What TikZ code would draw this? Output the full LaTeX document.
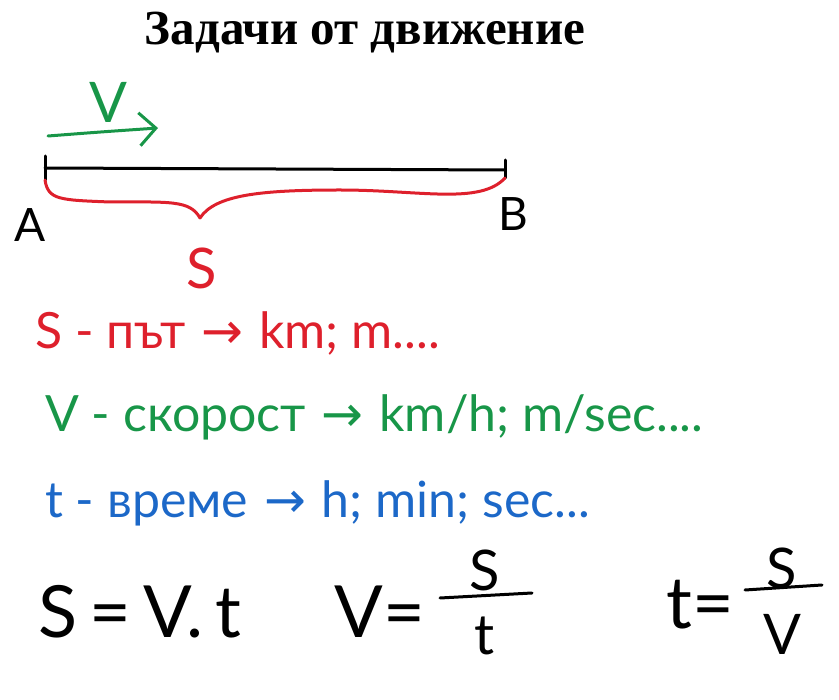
\documentclass[tikz,border=0pt]{standalone}
\usepackage{fontspec}
\setmainfont{Liberation Serif}
\newfontfamily\handfont{Lato}
\newfontfamily\arrowfont{DejaVu Sans}
\usetikzlibrary{positioning,arrows.meta}
\definecolor{penred}{RGB}{222,32,44}
\definecolor{pengreen}{RGB}{24,150,72}
\definecolor{penblue}{RGB}{28,104,200}
\newcommand{\goesto}{{\arrowfont\ →\ }}

\begin{document}
\begin{tikzpicture}
  [x=1pt,y=-1pt,
    hw/.style={font=\handfont\fontsize{50}{54}\selectfont,
      inner sep=0pt,anchor=west},
    big/.style={font=\handfont\fontsize{72}{76}\selectfont,inner sep=0pt},
    frac/.style={font=\handfont\fontsize{56}{60}\selectfont,inner sep=0pt},
    pen/.style={line width=3pt,line cap=round,line join=round}]
  \useasboundingbox (0,0) rectangle (839,700);
  \node[font=\bfseries\fontsize{49}{54}\selectfont] (title) at (365,33)
    {Задачи от движение};
  % segment AB
  \coordinate (A) at (45,168);
  \coordinate (B) at (505,170);
  \draw[pen] (A) -- (B);
  \draw[pen] ([yshift=12]A) -- ([yshift=-12]A);
  \draw[pen] ([yshift=10]B) -- ([yshift=-8]B);
  \node[hw,font=\handfont\fontsize{46}{50}\selectfont] (a) at (14,225) {A};
  \node[hw,font=\handfont\fontsize{46}{50}\selectfont] (b) at (498,214) {B};
  % velocity
  \coordinate (v0) at (48,136);
  \coordinate (v1) at (158,128);
  \draw[pen,pengreen,-{Straight Barb[scale=2.2]}]
    (v0) .. controls (100,132) .. (v1);
  \node[frac,pengreen] (v) at (108,102) {V};
  % distance
  \draw[pen,penred] ([yshift=-12]A) .. controls (48,200) and (60,200) .. (110,202)
    .. controls (170,202) and (190,200) .. (200,218)
    .. controls (215,195) and (260,190) .. (340,190)
    .. controls (420,190) and (480,205) .. ([yshift=-8]B);
  \node[frac,penred] (s) at (202,268) {S};
  % quantities
  \node[hw,penred] (dist) at (35,333) {S - път\goesto km; m....};
  \node[hw,pengreen] (speed) at (45,417) {V - скорост\goesto km/h; m/sec....};
  \node[hw,penblue] (time) at (45,503) {t - време\goesto h; min; sec...};
  % formulas
  \node[big] (law) at (140,612) {S\,=\,V.\,t};
  \node[big] (vlhs) at (380,612) {V=};
  \node[frac] (vnum) at (485,570) {S};
  \node[frac] (vden) at (485,636) {t};
  \coordinate (vb0) at (440,598);
  \coordinate (vb1) at (532,593);
  \draw[pen] (vb0) -- (vb1);
  \node[big] (tlhs) at (700,605) {t=};
  \node[frac] (tnum) at (782,568) {S};
  \node[frac] (tden) at (782,634) {V};
  \coordinate (tb0) at (745,590);
  \coordinate (tb1) at (822,585);
  \draw[pen] (tb0) -- (tb1);
\end{tikzpicture}
\end{document}
